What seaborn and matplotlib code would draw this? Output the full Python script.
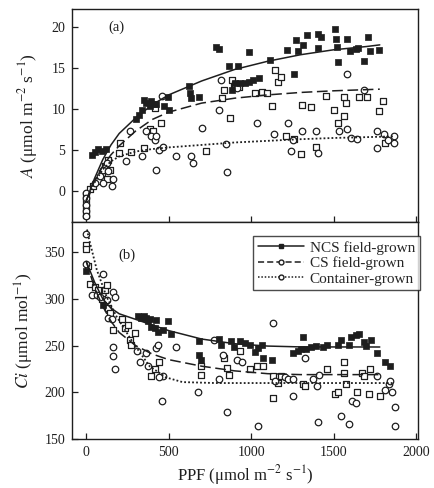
import matplotlib
matplotlib.use("Agg")
import matplotlib.pyplot as plt
import seaborn as sns
import pandas as pd
from matplotlib.lines import Line2D

# ---------------- data: panel (a) net photosynthesis A ----------------
ncs_a_x = [34, 54, 74, 94, 120,
           300, 320, 340, 348, 364, 384, 394, 408, 424, 474, 494, 504,
           624, 628, 634, 684,
           788, 804,
           864, 884, 904, 920, 934, 964, 988, 988, 1014, 1048,
           1114,
           1220, 1260, 1270, 1284, 1314, 1340, 1404, 1408, 1424, 1508, 1514, 1520, 1524,
           1584, 1600, 1634, 1648, 1684, 1708, 1720, 1774]
ncs_a_y = [4.4, 4.8, 5.1, 4.9, 5.1,
           8.8, 9.3, 9.9, 11.1, 10.7, 10.4, 10.9, 10.6, 10.6, 10.3, 11.5, 9.9,
           12.8, 11.9, 11.3, 11.4,
           17.6, 17.3,
           15.2, 12.3, 13.1, 15.2, 13.1, 13.1, 13.3, 16.9, 13.5, 13.8,
           16.0,
           17.2, 14.2, 18.4, 17.0, 17.8, 19.0, 17.4, 19.1, 18.8, 19.7, 18.5, 17.6, 15.7,
           18.5, 17.0, 17.3, 17.4, 15.8, 18.8, 17.0, 17.2]

cs_a_x = [0, 0, 0, 0, 24, 44, 74, 94, 114, 134, 124, 144, 200, 204, 274, 348, 384, 404,
          414, 454, 728, 824, 834, 874, 884, 894, 904, 928, 1024, 1064, 1094, 1124,
          1144, 1160, 1180, 1214, 1260, 1304, 1308, 1364, 1394, 1454, 1504, 1524, 1564,
          1574, 1564, 1654, 1704, 1774, 1800, 1814]
cs_a_y = [-0.5, -1.3, -2.1, -2.9, 0.2, 0.6, 1.2, 2.2, 3.0, 3.8, 1.4, 2.6, 4.6, 5.8, 4.8, 5.2, 7.5, 7.3,
          10.1, 8.3, 4.9, 11.3, 12.3, 8.9, 13.5, 12.7, 13.0, 12.7, 11.9, 12.1, 11.9, 10.3,
          14.7, 13.3, 13.9, 6.7, 6.3, 4.5, 10.5, 10.2, 5.4, 11.6, 9.9, 8.3, 9.1,
          10.7, 11.5, 11.5, 11.5, 9.7, 11.0, 5.8]

con_a_x = [0, 0, 0, 0, 0, 54, 84, 104, 104, 124, 134, 154, 164, 240, 268, 340, 364, 394,
           414, 424, 424, 444, 464, 460, 544, 634, 650, 704, 808, 820, 850, 854, 914,
           1034, 1140, 1224, 1240, 1254, 1308, 1394, 1404, 1534, 1580, 1584, 1608, 1644,
           1684, 1764, 1764, 1804, 1828, 1868, 1868]
con_a_y = [-0.3, -0.9, -1.7, -2.5, -3.1, 0.9, 1.8, 2.6, 1.0, 3.4, 2.4, 0.6, 1.5, 3.6, 7.3, 4.3, 7.3, 6.7,
           6.2, 6.7, 2.5, 5.0, 5.4, 11.6, 4.3, 4.2, 3.4, 7.7, 9.8, 13.5, 5.7, 2.3, 12.5,
           8.3, 6.9, 8.3, 4.9, 6.2, 7.3, 7.3, 4.6, 7.3, 14.2, 7.5, 6.5, 6.3,
           12.3, 5.2, 7.3, 6.9, 6.2, 6.7, 5.8]

# fitted curves
ncs_a_fit_x = [0, 50, 100, 150, 200, 300, 400, 500, 700, 900, 1100, 1300, 1500, 1700, 1780]
ncs_a_fit_y = [-1.2, 1.5, 3.8, 5.6, 7.0, 8.9, 10.5, 11.7, 13.4, 14.8, 15.8, 16.6, 17.2, 17.6, 17.8]
cs_a_fit_x = [0, 50, 100, 150, 200, 300, 400, 500, 700, 900, 1100, 1300, 1500, 1780]
cs_a_fit_y = [-1.2, 1.2, 3.0, 4.4, 5.5, 7.3, 8.7, 9.6, 10.7, 11.3, 11.7, 12.0, 12.2, 12.4]
con_a_fit_x = [0, 50, 100, 150, 200, 300, 400, 500, 700, 900, 1100, 1300, 1500, 1700, 1870]
con_a_fit_y = [-1.2, 1.0, 2.6, 3.6, 4.2, 4.8, 5.1, 5.3, 5.6, 5.9, 6.1, 6.3, 6.45, 6.55, 6.65]

# ---------------- data: panel (b) intercellular CO2 Ci ----------------
ncs_b_x = [0, 104,
           314, 334, 348, 364, 374, 384, 394, 414, 424, 434, 464, 494, 514,
           684, 684, 694,
           804, 820, 880, 894, 934, 964, 994, 1024, 1044, 1064,
           1074, 1124,
           1254, 1314, 1284, 1304, 1334, 1364, 1394, 1434, 1460, 1524, 1544, 1594, 1604,
           1634, 1654, 1684, 1694, 1724, 1764, 1814, 1844]
ncs_b_y = [330, 293,
           282, 280, 282, 280, 276, 278, 270, 269, 277, 265, 267, 276, 262,
           255, 240, 235,
           257, 251, 255, 249, 255, 253, 251, 243, 247, 251,
           237, 235,
           242, 259, 244, 246, 246, 249, 250, 248, 251, 251, 256, 251, 259,
           261, 262, 254, 250, 256, 242, 233, 228]

cs_b_x = [0, 0, 8, 24, 54, 74, 94, 114, 124, 134, 144, 164, 214, 234, 254, 264, 274, 294,
          394, 414, 444, 694, 694, 834, 854, 864, 934, 994, 1034, 1074, 1134, 1134, 1164,
          1184, 1314, 1324, 1460, 1508, 1524, 1564, 1564, 1574, 1644, 1674, 1684, 1720,
          1714, 1784]
cs_b_y = [358, 353, 335, 316, 313, 309, 300, 309, 315, 290, 285, 267, 278, 269, 272, 256, 251, 263,
          217, 225, 232, 228, 219, 237, 226, 219, 244, 225, 228, 228, 217, 194, 210,
          217, 209, 207, 225, 198, 200, 232, 221, 209, 200, 221, 217, 225,
          198, 196]

con_b_x = [0, 0, 34, 64, 84, 104, 128, 134, 154, 164, 174, 160, 164, 174, 308, 324, 364, 374,
           424, 434, 464, 444, 460, 544, 680, 774, 804, 828, 854, 914, 944, 1044, 1134,
           1144, 1204, 1224, 1254, 1254, 1324, 1374, 1400, 1404, 1414, 1544, 1594, 1614,
           1634, 1764, 1814, 1834, 1844, 1854, 1874, 1874]
con_b_y = [369, 337, 304, 304, 302, 327, 299, 279, 278, 307, 302, 239, 249, 225, 244, 233, 242, 228,
           247, 251, 217, 216, 191, 249, 200, 256, 214, 240, 179, 235, 233, 164, 274,
           212, 216, 214, 214, 196, 237, 214, 207, 168, 219, 175, 166, 191,
           189, 217, 203, 209, 212, 200, 184, 164]

ncs_b_fit_x = [0, 50, 100, 150, 200, 300, 400, 500, 700, 900, 1100, 1300, 1780]
ncs_b_fit_y = [340, 318, 300, 290, 284, 278, 272, 266, 257, 252, 249.5, 248.6, 248.5]
cs_b_fit_x = [0, 50, 100, 150, 200, 300, 400, 500, 700, 900, 1100, 1300, 1780]
cs_b_fit_y = [340, 312, 292, 276, 264, 250, 241, 235, 228, 223, 220, 219, 219]
con_b_fit_x = [5, 14, 64, 124, 184, 284, 384, 484, 584, 784, 1864]
con_b_fit_y = [374, 366, 331, 302, 281, 253, 228, 216, 211, 210, 210]

x_ticks = [0, 500, 1000, 1500, 2000]
a_ticks = [0, 5, 10, 15, 20]
ci_ticks = [150, 200, 250, 300, 350]
legend_labels = ["NCS field-grown", "CS field-grown", "Container-grown"]

# ---------------- style ----------------
sns.set_theme(style="ticks")
plt.rcParams["font.family"] = ["Liberation Serif", "DejaVu Serif"]
plt.rcParams["mathtext.fontset"] = "stix"
INK = "#1e1e1e"

fig = plt.figure(figsize=(4.35, 4.88), dpi=100)
ax_a = fig.add_axes([0.166, 0.545, 0.795, 0.437])
ax_b = fig.add_axes([0.166, 0.100, 0.795, 0.445])


def draw_panel(ax, ncs, cs, con, fits):
    sns.scatterplot(x=cs[0], y=cs[1], ax=ax, marker="s", s=18, facecolor="white",
                    edgecolor=INK, linewidth=0.9, zorder=3, legend=False)
    sns.scatterplot(x=con[0], y=con[1], ax=ax, marker="o", s=22, facecolor="white",
                    edgecolor=INK, linewidth=0.9, zorder=3, legend=False)
    sns.scatterplot(x=ncs[0], y=ncs[1], ax=ax, marker="s", s=16, color=INK,
                    edgecolor=INK, linewidth=0.5, zorder=4, legend=False)
    styles = [dict(ls="-", lw=1.1), dict(ls=(0, (7, 3)), lw=1.1), dict(ls=(0, (1, 1.2)), lw=1.3)]
    for (fx, fy), st in zip(fits, styles):
        sns.lineplot(x=fx, y=fy, ax=ax, sort=False, estimator=None, color=INK,
                     linestyle=st["ls"], linewidth=st["lw"], zorder=5, legend=False)


draw_panel(ax_a, (ncs_a_x, ncs_a_y), (cs_a_x, cs_a_y), (con_a_x, con_a_y),
           [(ncs_a_fit_x, ncs_a_fit_y), (cs_a_fit_x, cs_a_fit_y), (con_a_fit_x, con_a_fit_y)])
draw_panel(ax_b, (ncs_b_x, ncs_b_y), (cs_b_x, cs_b_y), (con_b_x, con_b_y),
           [(ncs_b_fit_x, ncs_b_fit_y), (cs_b_fit_x, cs_b_fit_y), (con_b_fit_x, con_b_fit_y)])

for ax in (ax_a, ax_b):
    ax.set_xlim(-85, 2012)
    ax.set_xticks(x_ticks)
    ax.tick_params(direction="in", length=4, width=0.9, colors=INK, labelsize=10,
                   top=False, right=False, pad=5)
    for sp in ax.spines.values():
        sp.set_visible(True)
        sp.set_color(INK)
        sp.set_linewidth(1.0)

ax_a.set_ylim(-3.8, 22.2)
ax_a.set_yticks(a_ticks)
ax_a.set_xticklabels([])
ax_a.set_xlabel("")
ax_a.set_ylabel(r"$\mathit{A}$ (μmol m$^{-2}$ s$^{-1}$)", fontsize=12.5, color=INK, labelpad=8)
ax_a.text(184, 20, "(a)", fontsize=10.5, color=INK, ha="center", va="center")

ax_b.set_ylim(150, 382)
ax_b.set_yticks(ci_ticks)
ax_b.set_xticklabels([str(t) for t in x_ticks])
ax_b.set_xlabel(r"PPF (μmol m$^{-2}$ s$^{-1}$)", fontsize=12, color=INK, labelpad=3)
ax_b.set_ylabel(r"$\mathit{Ci}$ (μmol mol$^{-1}$)", fontsize=12.5, color=INK, labelpad=6)
ax_b.text(244, 346, "(b)", fontsize=10.5, color=INK, ha="center", va="center")

handles = [
    Line2D([], [], color=INK, ls="-", lw=1.1, marker="s", ms=3.5, mfc=INK, mec=INK),
    Line2D([], [], color=INK, ls=(0, (4, 2)), lw=1.1, marker="o", ms=3.5, mfc="white", mec=INK),
    Line2D([], [], color=INK, ls=(0, (1, 1.2)), lw=1.1, marker="o", ms=3.5, mfc="white", mec=INK),
]
leg = ax_b.legend(handles, legend_labels, loc="upper right", bbox_to_anchor=(1.005, 0.935),
                  fontsize=11, frameon=True, fancybox=False, edgecolor=INK,
                  handlelength=3.0, handletextpad=0.4, borderpad=0.3,
                  labelspacing=0.12, borderaxespad=0.0)
leg.get_frame().set_linewidth(1.0)

fig.savefig("out.png", dpi=100)
